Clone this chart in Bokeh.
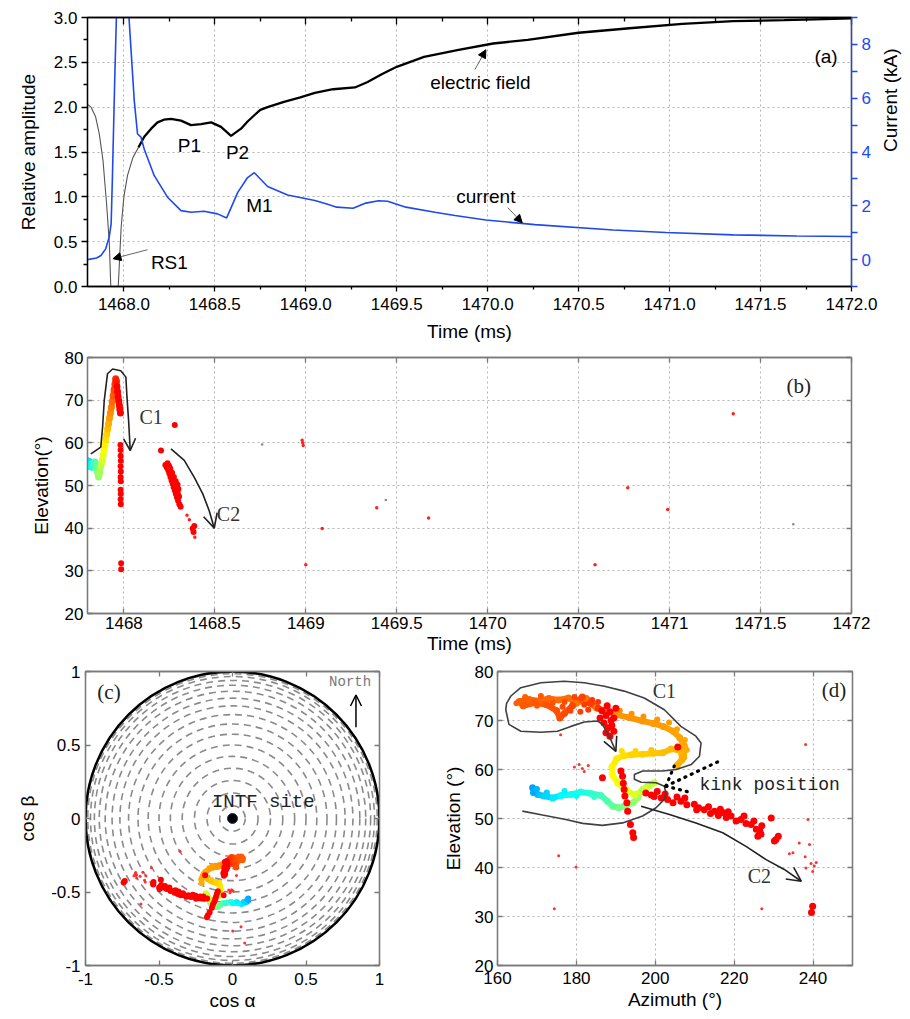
import numpy as np
from bokeh.plotting import figure
from bokeh.models import (Range1d, LinearAxis, FixedTicker, CustomJSTickFormatter, Label,
                          Arrow, NormalHead, OpenHead, LinearColorMapper, ColumnDataSource)
from bokeh.transform import transform
from bokeh.layouts import column, row
from bokeh.embed import file_html
from bokeh.resources import INLINE

# ======================= DATA =======================
# ---- panel (a): electric field (relative amplitude) and current (kA) vs time (ms)
efield_t = [1467.800, 1467.820, 1467.845, 1467.865, 1467.885, 1467.905, 1467.920, 1467.928,
            1467.935, 1467.950, 1467.962, 1467.969, 1467.975, 1467.985, 1468.000, 1468.020,
            1468.050, 1468.080, 1468.112, 1468.150, 1468.185, 1468.220, 1468.259, 1468.314,
            1468.369, 1468.424, 1468.480, 1468.534, 1468.589, 1468.644, 1468.680, 1468.717,
            1468.750, 1468.790, 1468.880, 1468.970, 1469.050, 1469.150, 1469.270, 1469.340,
            1469.420, 1469.500, 1469.650, 1469.840, 1470.030, 1470.220, 1470.500, 1470.780,
            1471.070, 1471.350, 1471.630, 1471.800, 1472.000]
efield_v = [2.03, 2.00, 1.89, 1.70, 1.41, 0.92, 0.48, 0.00,
            -0.60, -1.00, -0.60, 0.00, 0.25, 0.66, 1.00, 1.24,
            1.44, 1.55, 1.67, 1.76, 1.83, 1.86, 1.87, 1.85,
            1.80, 1.81, 1.83, 1.78, 1.68, 1.76, 1.84, 1.91,
            1.97, 2.00, 2.06, 2.11, 2.16, 2.20, 2.22, 2.28,
            2.37, 2.45, 2.56, 2.64, 2.71, 2.75, 2.83, 2.88,
            2.93, 2.96, 2.97, 2.98, 2.99]
current_t = [1467.800, 1467.850, 1467.874, 1467.900, 1467.919, 1467.930, 1467.937, 1467.950,
             1467.960, 1467.995, 1468.029, 1468.057, 1468.075, 1468.094, 1468.112, 1468.167,
             1468.240, 1468.314, 1468.370, 1468.440, 1468.515, 1468.565, 1468.626, 1468.680,
             1468.717, 1468.790, 1468.900, 1469.050, 1469.120, 1469.170, 1469.260, 1469.330,
             1469.400, 1469.450, 1469.550, 1469.710, 1469.820, 1469.990, 1470.260, 1470.690,
             1470.980, 1471.350, 1471.700, 1472.000]
current_ka = [0.00, 0.06, 0.15, 0.40, 0.83, 1.33, 3.06, 6.78,
              9.30, 16.0, 8.90, 5.91, 4.67, 4.55, 4.10, 3.12,
              2.32, 1.82, 1.76, 1.80, 1.70, 1.55, 2.50, 3.05,
              3.23, 2.72, 2.40, 2.20, 2.06, 1.95, 1.91, 2.10,
              2.19, 2.17, 1.95, 1.76, 1.64, 1.47, 1.30, 1.10,
              1.01, 0.92, 0.88, 0.86]
a_time_ticks = [1468.0, 1468.5, 1469.0, 1469.5, 1470.0, 1470.5, 1471.0, 1471.5, 1472.0]
a_amp_ticks = [0.0, 0.5, 1.0, 1.5, 2.0, 2.5, 3.0]
a_cur_ticks = [0, 2, 4, 6, 8]

# ---- panel (b): elevation vs time
b_track_t = [1467.790, 1467.793, 1467.798, 1467.804, 1467.810, 1467.816, 1467.822, 1467.828,
             1467.834, 1467.840, 1467.846, 1467.851, 1467.856, 1467.861, 1467.866, 1467.871,
             1467.876, 1467.881, 1467.886, 1467.891, 1467.896, 1467.901, 1467.906, 1467.911,
             1467.916, 1467.921, 1467.926, 1467.931, 1467.936, 1467.941, 1467.946, 1467.951,
             1467.955, 1467.959, 1467.962, 1467.965, 1467.968, 1467.972, 1467.975, 1467.978,
             1467.981]
b_track_el = [56.0, 54.8, 55.8, 54.5, 55.6, 55.0, 54.3, 55.2,
              54.6, 55.5, 55.0, 53.8, 53.0, 52.0, 52.8, 54.2,
              55.0, 55.8, 57.0, 58.3, 59.5, 60.8, 62.0, 63.3,
              64.5, 65.8, 67.0, 68.3, 69.6, 71.0, 72.4, 73.8,
              75.0, 74.5, 73.2, 72.0, 70.8, 69.8, 68.8, 67.8,
              67.0]
b_big_t = [1467.981, 1467.982, 1467.982, 1467.983, 1467.982, 1467.983, 1467.982, 1467.983,
           1467.982, 1467.983, 1467.982, 1467.983, 1467.985, 1467.985,
           1468.204, 1468.280,
           1468.228, 1468.236, 1468.244, 1468.250, 1468.256, 1468.262, 1468.268, 1468.274,
           1468.280, 1468.286, 1468.292, 1468.298, 1468.305, 1468.312, 1468.255, 1468.265,
           1468.275, 1468.285, 1468.295, 1468.300, 1468.296, 1468.303, 1468.240, 1468.248,
           1468.387, 1468.378, 1468.383]
b_big_el = [59.5, 58.3, 57.0, 55.8, 54.5, 53.3, 52.0, 51.0,
            49.0, 48.0, 46.8, 45.6, 31.8, 30.4,
            58.2, 64.2,
            54.8, 54.2, 53.6, 52.8, 52.0, 51.2, 50.4, 49.6,
            48.8, 48.0, 47.2, 46.4, 45.6, 45.0, 54.0, 53.0,
            52.0, 51.0, 50.2, 49.2, 48.2, 47.4, 55.2, 54.6,
            40.5, 39.9, 39.1]
b_small_t = [1468.347, 1468.360, 1468.390, 1468.980, 1468.983, 1468.986, 1469.090, 1469.000,
             1469.390, 1469.675, 1470.770, 1470.990, 1470.590, 1471.350]
b_small_el = [43.0, 42.0, 37.9, 60.6, 60.0, 59.4, 39.9, 31.4,
              44.8, 42.4, 49.5, 44.4, 31.4, 66.8]
b_gray_t = [1468.76, 1469.44, 1471.68]
b_gray_el = [59.6, 46.6, 40.9]
b_c1_t = [1467.818, 1467.835, 1467.873, 1467.883, 1467.892, 1467.910, 1467.938, 1467.983,
          1468.011, 1468.017, 1468.026, 1468.035]
b_c1_el = [57.4, 57.9, 59.0, 63.7, 69.9, 76.2, 77.3, 76.9, 75.4, 70.7, 65.2, 58.2]
b_c2_t = [1468.259, 1468.332, 1468.387, 1468.433, 1468.469, 1468.497]
b_c2_el = [58.6, 55.9, 51.9, 48.1, 44.1, 40.0]
b_time_ticks = [1468, 1468.5, 1469, 1469.5, 1470, 1470.5, 1471, 1471.5, 1472]
elev_ticks = [20, 30, 40, 50, 60, 70, 80]

# ---- panel (c): dashed elevation rings (deg)
ring_elev = [85, 80, 75, 70, 65, 60, 55, 50, 45, 40, 35, 30, 25, 20, 15, 10, 5]
site_x = [0.0]
site_y = [0.0]
c_ticks = [-1, -0.5, 0, 0.5, 1]

# ---- panel (d): elevation vs azimuth
d_track_az = [168.9, 169.3, 170.2, 171.8, 174.0, 176.1, 178.6, 181.1, 183.7, 186.2,
              187.9, 189.2, 190.8, 192.1, 194.3, 195.5, 196.8, 198.5, 199.7, 197.5,
              194.7, 192.6, 190.5, 189.2, 189.0, 190.2, 192.0, 194.0, 196.8, 199.5,
              201.9, 204.0, 206.5, 206.8, 205.5, 207.2, 207.4, 206.2, 204.5, 202.0,
              199.5, 196.8, 193.4, 190.0, 187.5, 185.0, 182.5, 180.0, 178.0, 175.5,
              173.0, 170.5, 168.0, 165.5, 166.5, 169.5, 172.5, 175.0, 175.8, 177.0,
              179.0, 181.5, 183.5, 185.5]
d_track_el = [56.3, 55.4, 54.9, 54.6, 54.2, 54.7, 54.9, 55.4, 55.1, 54.7,
              53.5, 52.5, 52.2, 52.5, 53.2, 54.2, 55.9, 56.9, 57.3, 56.0,
              54.8, 55.8, 57.2, 58.8, 60.5, 62.2, 62.8, 63.0, 63.1, 63.3,
              63.4, 64.2, 63.8, 62.0, 60.8, 62.5, 64.8, 66.5, 67.8, 68.8,
              69.4, 69.9, 70.6, 71.2, 72.0, 72.6, 74.5, 73.5, 74.6, 74.2,
              74.5, 74.0, 74.3, 73.9, 73.0, 73.6, 73.2, 72.0, 70.5, 71.5,
              73.0, 74.8, 73.5, 72.5]
d_track_t = [1467.792, 1467.796, 1467.800, 1467.806, 1467.812, 1467.818, 1467.822, 1467.827, 1467.832, 1467.838,
             1467.843, 1467.848, 1467.852, 1467.856, 1467.860, 1467.864, 1467.869, 1467.874, 1467.878, 1467.881,
             1467.884, 1467.887, 1467.890, 1467.893, 1467.896, 1467.899, 1467.902, 1467.905, 1467.907, 1467.909,
             1467.911, 1467.913, 1467.914, 1467.915, 1467.916, 1467.917, 1467.918, 1467.919, 1467.920, 1467.921,
             1467.922, 1467.923, 1467.924, 1467.925, 1467.927, 1467.928, 1467.933, 1467.934, 1467.935, 1467.936,
             1467.937, 1467.938, 1467.939, 1467.940, 1467.941, 1467.942, 1467.943, 1467.944, 1467.945, 1467.946,
             1467.947, 1467.948, 1467.950, 1467.952]
# extra loose sources around the coloured track (not joined)
d_cloud_az = [167.0, 171.0, 174.0, 177.0, 179.5, 182.0, 184.0, 176.5, 170.0, 164.8, 178.5, 181.0,
              183.0, 185.5, 200.5, 197.0, 194.0, 191.0, 203.5, 205.5, 207.5, 208.0, 191.5, 189.8,
              195.0, 199.0, 172.5, 177.0, 180.0, 184.5, 169.0, 170.0]
d_cloud_el = [74.8, 75.0, 73.6, 73.8, 74.8, 73.2, 74.2, 72.8, 73.0, 73.5, 72.0, 71.8,
              72.2, 73.8, 70.2, 70.8, 71.4, 72.0, 69.6, 68.2, 66.0, 64.0, 63.8, 61.5,
              63.8, 64.0, 55.3, 55.6, 54.6, 54.4, 55.2, 56.0]
d_cloud_t = [1467.940, 1467.942, 1467.944, 1467.946, 1467.948, 1467.950, 1467.952, 1467.945, 1467.941, 1467.939,
             1467.947, 1467.949, 1467.951, 1467.952, 1467.923, 1467.924, 1467.925, 1467.926, 1467.921, 1467.920,
             1467.918, 1467.917, 1467.902, 1467.898, 1467.906, 1467.909, 1467.806, 1467.815, 1467.822, 1467.834,
             1467.794, 1467.797]
d_big_az = [186.5, 187.5, 188.5, 189.5, 187.0, 188.0, 189.0, 187.5, 188.5, 190.0, 186.0, 189.5, 187.8, 188.8,
            191.3, 191.7, 191.9, 192.1, 192.3, 192.8, 193.0, 193.7, 194.3, 194.5,
            186.6, 205.7,
            197.6, 199.0, 199.7, 200.5, 201.5, 202.5, 203.1, 204.5, 205.5, 206.5, 207.5, 208.0, 209.9, 210.5,
            211.0, 212.4, 213.5, 214.0, 215.0, 216.0, 216.5, 217.1, 218.0, 218.5, 219.2, 220.5, 221.7, 222.5,
            223.0, 224.3, 225.0, 225.6, 226.0, 226.5, 227.0, 226.8, 229.4, 230.6, 231.2, 230.2,
            239.9, 239.6]
d_big_el = [72.0, 71.0, 71.8, 70.5, 69.5, 68.5, 69.0, 67.5, 66.8, 72.5, 70.5, 67.8, 73.0, 70.0,
            59.7, 58.6, 57.2, 55.9, 54.6, 53.2, 51.5, 48.8, 47.1, 46.1,
            58.3, 64.6,
            55.2, 54.8, 54.5, 55.5, 54.2, 55.0, 53.9, 53.2, 54.4, 53.5, 54.2, 52.8, 52.9, 51.8,
            52.2, 51.8, 52.4, 51.0, 51.5, 50.6, 51.9, 51.2, 50.2, 51.4, 50.5, 49.5, 49.8, 50.5,
            49.0, 48.8, 49.5, 47.8, 46.4, 47.5, 48.5, 46.8, 50.1, 45.7, 46.4, 45.4,
            32.1, 30.8]
d_small_az = [238.7, 236.5, 238.0, 234.9, 234.0, 239.1, 238.2, 240.3, 239.9, 240.8, 239.5,
              227.0, 238.1, 174.4, 179.9, 175.5, 176.0, 180.7, 179.5, 181.5, 182.0, 183.0]
d_small_el = [49.8, 45.0, 42.2, 43.0, 42.8, 44.7, 39.9, 40.3, 39.2, 41.0, 40.8,
              31.6, 65.1, 31.6, 40.1, 42.4, 67.1, 61.0, 60.5, 60.2, 59.6, 60.8]
d_c1_az = [166.3, 171.4, 177.3, 181.6, 186.6, 191.7, 196.8, 200.2, 202.3, 202.7, 202.3, 200.2,
           196.4, 194.7, 194.7, 196.8, 201.9, 205.3, 209.1, 211.2, 211.6, 210.3, 206.5, 202.3,
           197.2, 192.1, 187.1, 182.0, 176.9, 171.0, 165.9, 163.4, 162.3, 162.1, 162.9, 165.9,
           171.0, 175.2, 178.6, 182.0, 185.4, 186.6, 188.5, 190.0]
d_c1_el = [51.5, 50.7, 49.8, 49.0, 48.6, 49.1, 50.5, 52.2, 53.9, 55.2, 56.6, 57.3,
           57.4, 58.0, 59.0, 59.7, 59.7, 60.0, 61.0, 62.7, 65.4, 66.8, 68.8, 72.2,
           74.6, 76.0, 77.0, 77.7, 78.0, 77.7, 76.7, 75.0, 73.5, 72.2, 69.2, 67.8,
           67.6, 67.8, 68.8, 69.7, 69.9, 69.2, 66.5, 63.7]
d_c2_az = [196.4, 203.6, 210.3, 217.1, 223.0, 228.1, 232.7, 237.0]
d_c2_el = [52.5, 50.8, 49.1, 47.1, 44.3, 41.6, 39.6, 37.2]
kink_az = [202.7, 202.7, 202.7]
kink_el = [56.6, 56.6, 56.6]
kink_end_az = [216.2, 209.5, 204.8]
kink_end_el = [61.7, 55.2, 60.7]
az_ticks = [160, 180, 200, 220, 240]

# ======================= STYLE HELPERS =======================
FONT = "Liberation Sans"
SERIF = "Liberation Serif"
MONO = "Liberation Mono"
BLUE = "#1f48f2"
FRAME = "#7a7a7a"
GRIDC = "#b4b4b4"


def jet(x):
    r = np.clip(1.5 - abs(4 * x - 3), 0, 1)
    g = np.clip(1.5 - abs(4 * x - 2), 0, 1)
    b = np.clip(1.5 - abs(4 * x - 1), 0, 1)
    return "#%02x%02x%02x" % (int(r * 255), int(g * 255), int(b * 255))


palette = [jet(0.28 + 0.57 * i / 255.0) for i in range(256)]
mapper = LinearColorMapper(palette=palette, low=1467.79, high=1467.96,
                           high_color="#ff0000", low_color=palette[0])


def js_fmt(code):
    return CustomJSTickFormatter(code=code)


def style_axis(ax, ticker, tin=0, tout=6, min_in=0, min_out=3, color="black",
               label_color="black", fmt=None, labels=True, width=1.3, standoff=6, label_standoff=8):
    ax.ticker = ticker
    ax.axis_line_color = color
    ax.axis_line_width = width
    ax.major_tick_line_color = color
    ax.major_tick_line_width = width
    ax.minor_tick_line_color = color
    ax.minor_tick_line_width = width
    ax.major_tick_in = tin
    ax.major_tick_out = tout
    ax.minor_tick_in = min_in
    ax.minor_tick_out = min_out
    if fmt is not None:
        ax.formatter = fmt
    ax.major_label_text_font = FONT
    ax.major_label_text_font_size = "17px"
    ax.major_label_text_color = label_color
    ax.major_label_standoff = standoff
    ax.axis_label_text_font = FONT
    ax.axis_label_text_font_size = "19px"
    ax.axis_label_text_font_style = "normal"
    ax.axis_label_text_color = "black"
    ax.axis_label_standoff = label_standoff
    if not labels:
        ax.formatter = js_fmt("return '';")
        ax.major_label_text_font_size = "1px"
        ax.major_label_standoff = 0


def mirror(p, where, ticker, color, tin=5, min_in=0):
    ax = LinearAxis()
    style_axis(ax, ticker, tin=tin, tout=0, min_in=min_in, min_out=0, color=color, labels=False)
    p.add_layout(ax, where)
    return ax


def style_grid(p, xt, yt):
    for g, t in ((p.xgrid, xt), (p.ygrid, yt)):
        g.ticker = t
        g.grid_line_color = GRIDC
        g.grid_line_dash = "2 3"
        g.grid_line_width = 1


def make_fig(fw, fh, xr, yr, ml, mr, mt, mb, xlabel, ylabel):
    p = figure(frame_width=fw, frame_height=fh, x_range=xr, y_range=yr,
               output_backend="svg", toolbar_location=None,
               min_border_left=ml, min_border_right=mr, min_border_top=mt, min_border_bottom=mb,
               x_axis_label=xlabel, y_axis_label=ylabel)
    p.background_fill_color = "white"
    p.border_fill_color = "white"
    return p


def label(p, x, y, text, size="19px", font=FONT, align="center", color="black", baseline="middle"):
    p.add_layout(Label(x=x, y=y, text=text, text_font=font, text_font_size=size,
                       text_align=align, text_baseline=baseline, text_color=color))


# ======================= PANEL (a) =======================
pa = make_fig(764, 269, Range1d(1467.8, 1472.0), Range1d(0, 3), 87, 51, 17, 59,
              "Time (ms)", "Relative amplitude")
pa.extra_y_ranges = {"cur": Range1d(-1, 9)}
xt_a = FixedTicker(ticks=a_time_ticks, minor_ticks=[t + 0.25 for t in a_time_ticks[:-1]])
yt_a = FixedTicker(ticks=a_amp_ticks, minor_ticks=[v + 0.25 for v in a_amp_ticks[:-1]])
style_axis(pa.below[0], xt_a, tout=5, min_out=3, fmt=js_fmt("return tick.toFixed(1);"), standoff=6)
style_axis(pa.left[0], yt_a, tout=6, min_out=4, fmt=js_fmt("return tick.toFixed(1);"), standoff=4,
           label_standoff=12)
cur_ticker = FixedTicker(ticks=a_cur_ticks, minor_ticks=[-1, 1, 3, 5, 7, 9])
ra = LinearAxis(y_range_name="cur", axis_label="Current (kA)")
style_axis(ra, cur_ticker, tout=6, min_out=6, color=BLUE, label_color=BLUE,
           fmt=js_fmt("return tick.toString();"), standoff=4, label_standoff=17)
ra.axis_label_orientation = 1.5708
pa.add_layout(ra, "right")
mirror(pa, "above", xt_a, "black", tin=7, min_in=4)
style_grid(pa, xt_a, yt_a)
pa.outline_line_color = "black"
pa.outline_line_width = 1.3

split = efield_t.index(1468.080)
pa.line(efield_t[:split + 1], efield_v[:split + 1], line_color="#555555", line_width=1.1)
pa.line(efield_t[split:], efield_v[split:], line_color="black", line_width=2.3)
pa.line(current_t, current_ka, y_range_name="cur", line_color=BLUE, line_width=1.6)

label(pa, 1468.36, 1.57, "P1")
label(pa, 1468.625, 1.50, "P2")
label(pa, 1468.745, 0.90, "M1")
label(pa, 1468.25, 0.27, "RS1")
label(pa, 1469.96, 2.27, "electric field")
label(pa, 1469.99, 1.00, "current")
label(pa, 1471.86, 2.56, "(a)")
pa.add_layout(Arrow(x_start=1468.13, y_start=0.41, x_end=1467.94, y_end=0.31,
                    line_color="#666666", line_width=1,
                    end=NormalHead(size=8, fill_color="black", line_color="black")))
pa.add_layout(Arrow(x_start=1469.93, y_start=2.42, x_end=1469.99, y_end=2.64,
                    line_color="#666666", line_width=1,
                    end=NormalHead(size=8, fill_color="black", line_color="black")))
pa.add_layout(Arrow(x_start=1470.11, y_start=0.88, x_end=1470.19, y_end=0.71,
                    line_color="#666666", line_width=1,
                    end=NormalHead(size=8, fill_color="black", line_color="black")))

# ======================= PANEL (b) =======================
pb = make_fig(764, 256, Range1d(1467.8, 1472.0), Range1d(20, 80), 87, 43, 12, 46,
              "Time (ms)", "Elevation(\u00b0)")
xt_b = FixedTicker(ticks=b_time_ticks)
yt_b = FixedTicker(ticks=elev_ticks)
style_axis(pb.below[0], xt_b, tin=5, tout=0, min_in=0, min_out=0, color=FRAME,
           fmt=js_fmt("return tick.toString();"), standoff=3, label_standoff=1)
style_axis(pb.left[0], yt_b, tin=5, tout=0, min_in=0, min_out=0, color=FRAME,
           fmt=js_fmt("return tick.toString();"), standoff=4, label_standoff=10)
mirror(pb, "above", xt_b, FRAME)
mirror(pb, "right", yt_b, FRAME)
style_grid(pb, xt_b, yt_b)
pb.outline_line_color = FRAME
pb.outline_line_width = 1.3

srcb = ColumnDataSource(dict(t=b_track_t, el=b_track_el))
segb = ColumnDataSource(dict(x0=b_track_t[:-1], y0=b_track_el[:-1], x1=b_track_t[1:],
                             y1=b_track_el[1:], t=b_track_t[:-1]))
pb.segment("x0", "y0", "x1", "y1", source=segb, line_color=transform("t", mapper), line_width=6)
pb.scatter("t", "el", source=srcb, size=7, marker="circle", line_color=None,
           fill_color=transform("t", mapper))
pb.scatter(b_big_t, b_big_el, size=6, marker="circle", line_color=None, fill_color="#ff0000")
pb.scatter(b_small_t, b_small_el, size=3.5, marker="circle", line_color=None, fill_color="#ff2020")
pb.scatter(b_gray_t, b_gray_el, size=2.5, marker="circle", line_color=None, fill_color="#888888")
pb.line(b_c1_t, b_c1_el, line_color="#222222", line_width=1.6)
pb.line(b_c2_t, b_c2_el, line_color="#222222", line_width=1.6)
pb.add_layout(Arrow(x_start=b_c1_t[-2], y_start=b_c1_el[-2], x_end=b_c1_t[-1], y_end=b_c1_el[-1],
                    line_alpha=0, end=OpenHead(size=12, line_width=1.6, line_color="#222222")))
pb.add_layout(Arrow(x_start=b_c2_t[-2], y_start=b_c2_el[-2], x_end=b_c2_t[-1], y_end=b_c2_el[-1],
                    line_alpha=0, end=OpenHead(size=14, line_width=1.6, line_color="#222222")))
label(pb, 1468.15, 66.0, "C1", size="20px", font=SERIF, color="#333333")
label(pb, 1468.575, 43.4, "C2", size="20px", font=SERIF, color="#333333")
label(pb, 1471.71, 73.4, "(b)", size="21px", font=SERIF, color="#222222")

# ======================= PANEL (c) =======================
pc = make_fig(294, 294, Range1d(-1, 1), Range1d(-1, 1), 85, 56, 1, 58,
              "cos \u03b1", "cos \u03b2")
ct = FixedTicker(ticks=c_ticks)
style_axis(pc.below[0], ct, tin=5, tout=0, min_in=0, min_out=0, color=FRAME,
           fmt=js_fmt("return tick.toString();"), standoff=7, label_standoff=2)
style_axis(pc.left[0], ct, tin=5, tout=0, min_in=0, min_out=0, color=FRAME,
           fmt=js_fmt("return tick.toString();"), standoff=5, label_standoff=10)
mirror(pc, "above", ct, FRAME)
mirror(pc, "right", ct, FRAME)
pc.xgrid.visible = False
pc.ygrid.visible = False
pc.outline_line_color = FRAME
pc.outline_line_width = 1.3

ring_r = np.cos(np.radians(ring_elev))
pc.circle(x=[0.0] * len(ring_r), y=[0.0] * len(ring_r), radius=ring_r, fill_color=None,
          line_color="#8a8a8a", line_width=1.6, line_dash="7 5")
pc.circle(x=site_x, y=site_y, radius=1.0, fill_color=None, line_color="black", line_width=2.5)


def proj(az, el):
    a = np.radians(np.asarray(az, dtype=float))
    e = np.radians(np.asarray(el, dtype=float))
    return np.cos(e) * np.sin(a), np.cos(e) * np.cos(a)


tx, ty = proj(d_track_az, d_track_el)
segc = ColumnDataSource(dict(x0=tx[:-1], y0=ty[:-1], x1=tx[1:], y1=ty[1:], t=d_track_t[:-1]))
pc.segment("x0", "y0", "x1", "y1", source=segc, line_color=transform("t", mapper), line_width=5)
pc.scatter("x", "y", source=ColumnDataSource(dict(x=tx, y=ty, t=d_track_t)), size=6,
           marker="circle", line_color=None, fill_color=transform("t", mapper))
cx, cy = proj(d_cloud_az, d_cloud_el)
pc.scatter("x", "y", source=ColumnDataSource(dict(x=cx, y=cy, t=d_cloud_t)), size=5,
           marker="circle", line_color=None, fill_color=transform("t", mapper))
bx, by = proj(d_big_az, d_big_el)
pc.scatter(bx, by, size=6, marker="circle", line_color=None, fill_color="#ff0000")
sx, sy = proj(d_small_az, d_small_el)
pc.scatter(sx, sy, size=3, marker="circle", line_color=None, fill_color="#ff3030")
pc.scatter(site_x, site_y, size=10, marker="circle", fill_color="black", line_color="#1a2a80",
           line_width=1)
pc.add_layout(Label(x=-0.14, y=0.115, text="INTF site", text_font=MONO, text_font_size="19px",
                    text_align="left", text_baseline="middle", text_color="#222222"))
label(pc, -0.84, 0.86, "(c)", size="21px", font=SERIF, color="#222222")
label(pc, 0.80, 0.93, "North", size="14px", font=MONO, color="#777777")
pc.add_layout(Arrow(x_start=0.84, y_start=0.62, x_end=0.84, y_end=0.84, line_color="black",
                    line_width=1.5, end=OpenHead(size=11, line_width=1.5, line_color="black")))

# ======================= PANEL (d) =======================
pd_ = make_fig(355, 294, Range1d(160, 250), Range1d(20, 80), 62, 10, 12, 44,
               "Azimuth (\u00b0)", "Elevation (\u00b0)")
xt_d = FixedTicker(ticks=az_ticks)
yt_d = FixedTicker(ticks=elev_ticks)
style_axis(pd_.below[0], xt_d, tin=5, tout=0, min_in=0, min_out=0, color=FRAME,
           fmt=js_fmt("return tick.toString();"), standoff=6, label_standoff=2)
style_axis(pd_.left[0], yt_d, tin=5, tout=0, min_in=0, min_out=0, color=FRAME,
           fmt=js_fmt("return tick.toString();"), standoff=4, label_standoff=8)
mirror(pd_, "above", xt_d, FRAME)
mirror(pd_, "right", yt_d, FRAME)
style_grid(pd_, xt_d, yt_d)
pd_.outline_line_color = FRAME
pd_.outline_line_width = 1.3

segd = ColumnDataSource(dict(x0=d_track_az[:-1], y0=d_track_el[:-1], x1=d_track_az[1:],
                             y1=d_track_el[1:], t=d_track_t[:-1]))
pd_.segment("x0", "y0", "x1", "y1", source=segd, line_color=transform("t", mapper), line_width=6)
pd_.scatter("az", "el", source=ColumnDataSource(dict(az=d_track_az, el=d_track_el, t=d_track_t)),
            size=7, marker="circle", line_color=None, fill_color=transform("t", mapper))
pd_.scatter("az", "el", source=ColumnDataSource(dict(az=d_cloud_az, el=d_cloud_el, t=d_cloud_t)),
            size=6, marker="circle", line_color=None, fill_color=transform("t", mapper))
pd_.scatter(d_big_az, d_big_el, size=7, marker="circle", line_color=None, fill_color="#ff0000")
pd_.scatter(d_small_az, d_small_el, size=3, marker="circle", line_color=None, fill_color="#ff3030")
pd_.line(d_c1_az, d_c1_el, line_color="#404040", line_width=1.6)
pd_.line(d_c2_az, d_c2_el, line_color="#222222", line_width=1.6)
pd_.add_layout(Arrow(x_start=d_c1_az[-2], y_start=d_c1_el[-2], x_end=d_c1_az[-1], y_end=d_c1_el[-1],
                     line_alpha=0, end=OpenHead(size=14, line_width=1.6, line_color="#222222")))
pd_.add_layout(Arrow(x_start=d_c2_az[-2], y_start=d_c2_el[-2], x_end=d_c2_az[-1], y_end=d_c2_el[-1],
                     line_alpha=0, end=OpenHead(size=14, line_width=1.6, line_color="#222222")))
pd_.segment(kink_az, kink_el, kink_end_az, kink_end_el, line_color="black", line_width=3.2,
            line_dash="1 6", line_cap="round")
label(pd_, 211.2, 56.9, "kink position", size="18px", font=MONO, align="left", color="#222222")
label(pd_, 202.3, 76.0, "C1", size="20px", font=SERIF, color="#333333")
label(pd_, 226.4, 38.2, "C2", size="20px", font=SERIF, color="#333333")
label(pd_, 245.3, 76.2, "(d)", size="21px", font=SERIF, color="#222222")

layout = column(pa, pb, row(pc, pd_))
open("out.html", "w").write(file_html(layout, INLINE))
